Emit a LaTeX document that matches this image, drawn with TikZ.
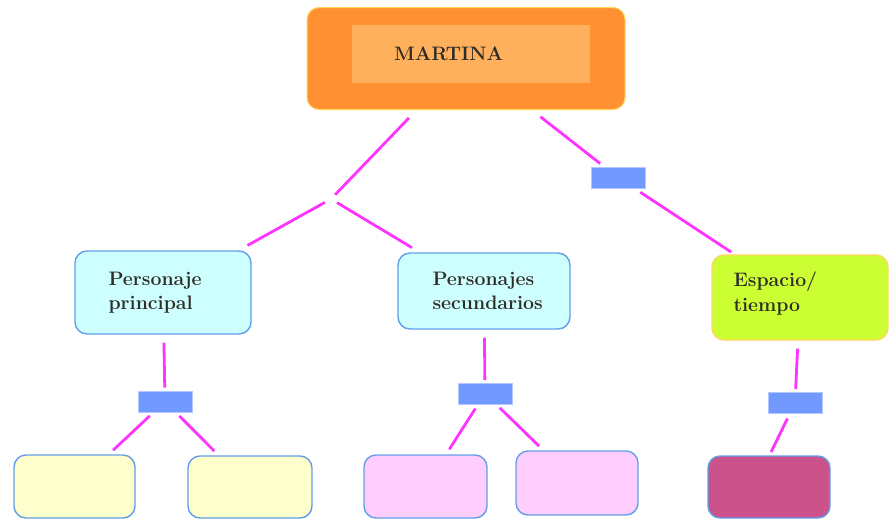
\documentclass[tikz,border=0pt]{standalone}
\usepackage{tikz}
\usepackage{xcolor}
\definecolor{mapline}{RGB}{255,51,255}
\definecolor{rootout}{RGB}{255,145,50}
\definecolor{rootin}{RGB}{255,176,92}
\definecolor{rootedge}{RGB}{255,214,90}
\definecolor{boxedge}{RGB}{98,158,232}
\definecolor{cyanfill}{RGB}{206,255,255}
\definecolor{limefill}{RGB}{204,255,51}
\definecolor{paleyellow}{RGB}{255,255,206}
\definecolor{palepink}{RGB}{255,206,255}
\definecolor{plum}{RGB}{204,82,140}
\definecolor{tagblue}{RGB}{114,153,255}
\definecolor{inkgray}{RGB}{48,44,40}

\begin{document}
\begin{tikzpicture}[x=1pt, y=-1pt,
  every node/.style={font=\fontsize{19.5}{24.5}\selectfont\bfseries, text=inkgray},
  concept/.style={draw=boxedge, line width=1.4pt, rounded corners=12pt, inner sep=0pt},
  tag/.style={fill=tagblue, draw=tagblue!55!white, line width=0.8pt,
    minimum width=54pt, minimum height=21pt, inner sep=0pt},
  link/.style={draw=mapline, line width=2.8pt},
  txt/.style={align=left, inner sep=0pt, anchor=west}]

\useasboundingbox (0,0) rectangle (889,520);

% ---- MARTINA ----
\node[fill=rootout, draw=rootedge, line width=1pt, rounded corners=12pt,
  minimum width=318pt, minimum height=102pt, inner sep=0pt] (root) at (466,58.5) {};
\node[fill=rootin, minimum width=238pt, minimum height=58pt, text width=154pt,
  inner xsep=42pt, inner ysep=0pt, align=left] (rootin) at (471,54) {MARTINA};

% ---- second level ----
\node[concept, fill=cyanfill, minimum width=176pt, minimum height=83pt] (pp) at (163,292.5) {};
\node[txt] (pptxt) at ([xshift=34pt]pp.west) {Personaje\\principal};
\node[concept, fill=cyanfill, minimum width=172pt, minimum height=76pt] (ps) at (484,291) {};
\node[txt] (pstxt) at ([xshift=35pt]ps.west) {Personajes\\secundarios};
\node[concept, draw=rootedge, fill=limefill, minimum width=176pt, minimum height=85pt] (es) at (800,297.5) {};
\node[txt] (estxt) at ([xshift=22pt,yshift=4pt]es.west) {Espacio/\\tiempo};

\coordinate (jct) at (331,199);
\node[tag] (t0) at (618,177.5) {};

\draw[link, shorten <=11pt, shorten >=6pt] (root) -- (jct);
\draw[link, shorten <=7pt, shorten >=10pt] (jct) -- (pp);
\draw[link, shorten <=7pt, shorten >=9pt] (jct) -- (ps);
\draw[link, shorten <=11pt, shorten >=5pt] (root) -- (t0);
\draw[link, shorten <=7pt, shorten >=4pt] (t0) -- (es);

% ---- third level ----
\node[tag] (t1) at (165,401.5) {};
\node[tag] (t2) at (485,393.5) {};
\node[tag] (t3) at (795,403) {};

\node[concept, fill=paleyellow, minimum width=121pt, minimum height=63pt] (y1) at (74.5,486.5) {};
\node[concept, fill=paleyellow, minimum width=124pt, minimum height=62pt] (y2) at (250,487) {};
\node[concept, fill=palepink, minimum width=123pt, minimum height=63pt] (k1) at (425.5,486.5) {};
\node[concept, fill=palepink, minimum width=122pt, minimum height=64pt] (k2) at (577,483) {};
\node[concept, fill=plum, minimum width=122pt, minimum height=62pt] (m1) at (769,487) {};

\draw[link, shorten <=8pt, shorten >=3pt] (pp) -- (t1);
\draw[link, shorten <=5pt, shorten >=6pt] (t1) -- (y1);
\draw[link, shorten <=5pt, shorten >=6pt] (t1) -- (y2);
\draw[link, shorten <=8pt, shorten >=2.5pt] (ps) -- (t2);
\draw[link, shorten <=5pt, shorten >=6pt] (t2) -- (k1);
\draw[link, shorten <=5pt, shorten >=6pt] (t2) -- (k2);
\draw[link, shorten <=8pt, shorten >=3pt] (es) -- (t3);
\draw[link, shorten <=5pt, shorten >=39pt] (t3) -- ([xshift=-15pt]m1.center);

\end{tikzpicture}
\end{document}
